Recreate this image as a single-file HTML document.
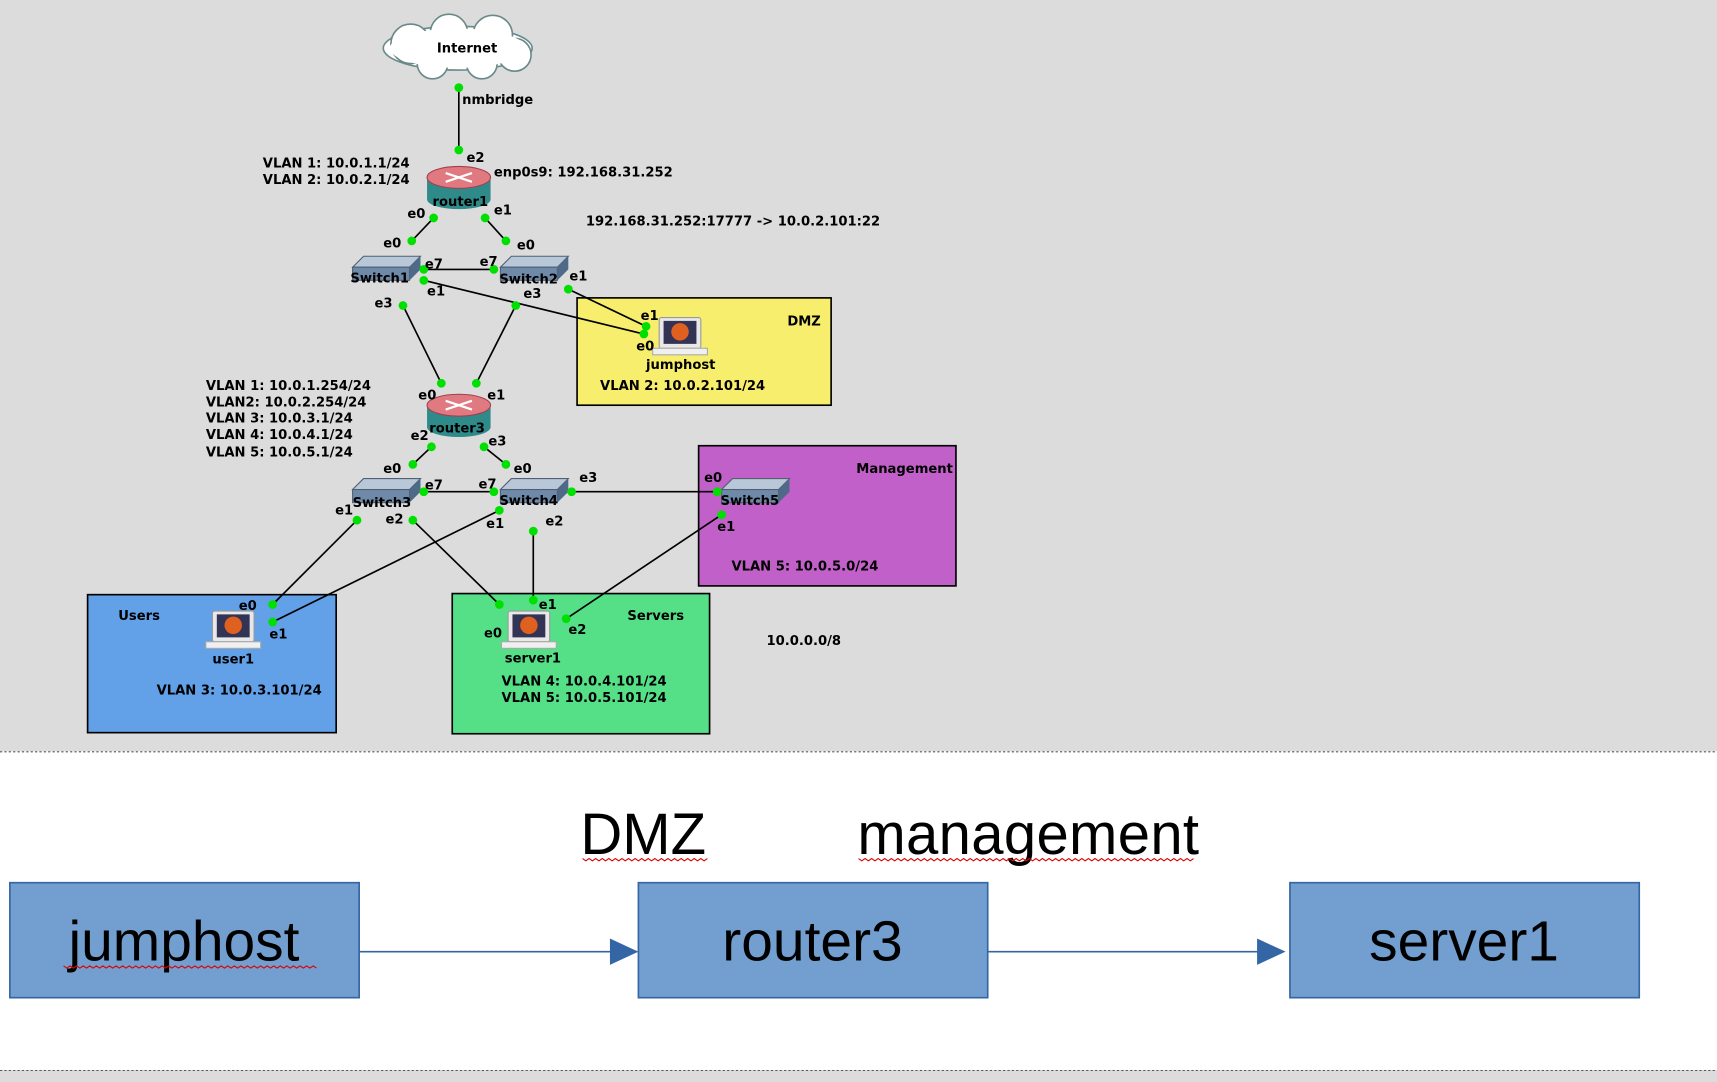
<!DOCTYPE html>
<html><head><meta charset="utf-8"><style>
html,body{margin:0;padding:0;width:1717px;height:1082px;overflow:hidden;background:#fff}
svg{display:block}
.t{font-family:"DejaVu Sans","Liberation Sans",sans-serif;font-weight:bold;font-size:12px;fill:#000}
.big{font-family:"Liberation Sans",sans-serif;fill:#000}
</style></head><body>
<svg width="1717" height="1082" viewBox="0 0 1568 988" preserveAspectRatio="none" xmlns="http://www.w3.org/2000/svg">
<rect x="0" y="0" width="1568" height="686" fill="#dcdcdc"/>
<line x1="0" y1="686.5" x2="1568" y2="686.5" stroke="#555" stroke-dasharray="2,2"/>
<rect x="0" y="977" width="1568" height="11" fill="#dcdcdc"/>
<line x1="0" y1="977.5" x2="1568" y2="977.5" stroke="#555" stroke-dasharray="2,2"/>

<rect x="527" y="272" width="232" height="98" fill="#f7ee6e" stroke="#000" stroke-width="1.5"/>
<rect x="638" y="407" width="235" height="128" fill="#c060c8" stroke="#000" stroke-width="1.5"/>
<rect x="80" y="543" width="227" height="126" fill="#62a0e8" stroke="#000" stroke-width="1.5"/>
<rect x="413" y="542" width="235" height="128" fill="#55e088" stroke="#000" stroke-width="1.5"/>
<text class="t" x="719" y="297">DMZ</text>
<text class="t" x="782" y="432">Management</text>
<text class="t" x="108" y="566">Users</text>
<text class="t" x="573" y="566">Servers</text>

<g stroke="#000" stroke-width="1.5">
<line x1="419" y1="80" x2="419" y2="137"/>
<line x1="396" y1="199" x2="376" y2="220"/>
<line x1="443" y1="199" x2="462" y2="220"/>
<line x1="387" y1="246" x2="451" y2="246"/>
<line x1="387" y1="256" x2="588" y2="305"/>
<line x1="519" y1="264" x2="590" y2="298"/>
<line x1="368" y1="279" x2="403" y2="350"/>
<line x1="471" y1="279" x2="435" y2="350"/>
<line x1="394" y1="408" x2="377" y2="424"/>
<line x1="442" y1="408" x2="462" y2="424"/>
<line x1="387" y1="449" x2="451" y2="449"/>
<line x1="522" y1="449" x2="655" y2="449"/>
<line x1="326" y1="475" x2="249" y2="552"/>
<line x1="456" y1="466" x2="249" y2="568"/>
<line x1="377" y1="475" x2="456" y2="552"/>
<line x1="487" y1="485" x2="487" y2="548"/>
<line x1="659" y1="470" x2="517" y2="565"/>
</g>

<g fill="#fff" stroke="#6a8a8a" stroke-width="1.5">
<ellipse cx="418" cy="44" rx="68" ry="20"/>
<circle cx="375" cy="40" r="18"/><circle cx="410" cy="30" r="17"/><circle cx="450" cy="32" r="18"/><circle cx="470" cy="50" r="15"/><circle cx="395" cy="58" r="14"/><circle cx="440" cy="58" r="14"/>
</g>
<ellipse cx="418" cy="44" rx="62" ry="18" fill="#fff"/>
<text class="t" x="399" y="48">Internet</text>

<g id="r">
<rect x="390" y="162" width="58" height="20" fill="#2f8a8a"/>
<ellipse cx="419" cy="182" rx="29" ry="9" fill="#2f8a8a"/>
<ellipse cx="419" cy="162" rx="29" ry="10" fill="#e07a80" stroke="#a04050"/>
<path d="M407 158 L431 166 M431 158 L407 166" stroke="#fff" stroke-width="2"/>
</g>
<use href="#r" y="208"/>
<text class="t" x="395" y="188">router1</text>
<text class="t" x="392" y="395">router3</text>

<g id="s">
<polygon points="322,244 332,234 384,234 374,244" fill="#b8c8d8" stroke="#506070"/>
<rect x="322" y="244" width="52" height="12" fill="#6e8aa8" stroke="#506070"/>
<polygon points="374,244 384,234 384,246 374,256" fill="#4e6a88"/>
</g>
<use href="#s" x="135"/>
<use href="#s" y="203"/>
<use href="#s" x="135" y="203"/>
<use href="#s" x="337" y="203"/>
<text class="t" x="320" y="258">Switch1</text>
<text class="t" x="456" y="259">Switch2</text>
<text class="t" x="322" y="463">Switch3</text>
<text class="t" x="456" y="461">Switch4</text>
<text class="t" x="658" y="461">Switch5</text>

<g id="h">
<rect x="602" y="290" width="38" height="28" rx="2" fill="#e8e8e8" stroke="#999"/>
<rect x="606" y="293" width="30" height="21" fill="#335"/>
<circle cx="621" cy="303" r="8" fill="#e06020"/>
<rect x="596" y="318" width="50" height="6" fill="#f0f0f0" stroke="#aaa"/>
</g>
<use href="#h" x="-408" y="268"/>
<use href="#h" x="-138" y="268"/>
<text class="t" x="590" y="337">jumphost</text>
<text class="t" x="194" y="606">user1</text>
<text class="t" x="461" y="605">server1</text>

<g fill="#00e000">
<circle cx="419" cy="80" r="4"/><circle cx="419" cy="137" r="4"/>
<circle cx="396" cy="199" r="4"/><circle cx="376" cy="220" r="4"/>
<circle cx="443" cy="199" r="4"/><circle cx="462" cy="220" r="4"/>
<circle cx="387" cy="246" r="4"/><circle cx="451" cy="246" r="4"/>
<circle cx="387" cy="256" r="4"/><circle cx="588" cy="305" r="4"/>
<circle cx="519" cy="264" r="4"/><circle cx="590" cy="298" r="4"/>
<circle cx="368" cy="279" r="4"/><circle cx="403" cy="350" r="4"/>
<circle cx="471" cy="279" r="4"/><circle cx="435" cy="350" r="4"/>
<circle cx="394" cy="408" r="4"/><circle cx="377" cy="424" r="4"/>
<circle cx="442" cy="408" r="4"/><circle cx="462" cy="424" r="4"/>
<circle cx="387" cy="449" r="4"/><circle cx="451" cy="449" r="4"/>
<circle cx="522" cy="449" r="4"/><circle cx="655" cy="449" r="4"/>
<circle cx="326" cy="475" r="4"/><circle cx="249" cy="552" r="4"/>
<circle cx="456" cy="466" r="4"/><circle cx="249" cy="568" r="4"/>
<circle cx="377" cy="475" r="4"/><circle cx="456" cy="552" r="4"/>
<circle cx="487" cy="485" r="4"/><circle cx="487" cy="548" r="4"/>
<circle cx="659" cy="470" r="4"/><circle cx="517" cy="565" r="4"/>
</g>

<g class="t">
<text x="422" y="95">nmbridge</text>
<text x="426" y="148">e2</text>
<text x="372" y="199">e0</text><text x="451" y="196">e1</text>
<text x="350" y="226">e0</text><text x="472" y="228">e0</text>
<text x="388" y="245">e7</text><text x="438" y="243">e7</text>
<text x="390" y="270">e1</text><text x="520" y="256">e1</text>
<text x="342" y="281">e3</text><text x="478" y="272">e3</text>
<text x="585" y="292">e1</text><text x="581" y="320">e0</text>
<text x="382" y="365">e0</text><text x="445" y="365">e1</text>
<text x="375" y="402">e2</text><text x="446" y="407">e3</text>
<text x="350" y="432">e0</text><text x="469" y="432">e0</text>
<text x="388" y="447">e7</text><text x="437" y="446">e7</text>
<text x="529" y="440">e3</text><text x="643" y="440">e0</text>
<text x="306" y="470">e1</text><text x="352" y="478">e2</text>
<text x="444" y="482">e1</text><text x="498" y="480">e2</text>
<text x="655" y="485">e1</text>
<text x="218" y="557">e0</text><text x="246" y="583">e1</text>
<text x="442" y="582">e0</text><text x="492" y="556">e1</text><text x="519" y="579">e2</text>
</g>

<g class="t">
<text x="240" y="153">VLAN 1: 10.0.1.1/24</text>
<text x="240" y="168">VLAN 2: 10.0.2.1/24</text>
<text x="451" y="161">enp0s9: 192.168.31.252</text>
<text x="535" y="206">192.168.31.252:17777 -&gt; 10.0.2.101:22</text>
<text x="548" y="356">VLAN 2: 10.0.2.101/24</text>
<text x="188" y="356">VLAN 1: 10.0.1.254/24</text>
<text x="188" y="371">VLAN2: 10.0.2.254/24</text>
<text x="188" y="386">VLAN 3: 10.0.3.1/24</text>
<text x="188" y="401">VLAN 4: 10.0.4.1/24</text>
<text x="188" y="417">VLAN 5: 10.0.5.1/24</text>
<text x="668" y="521">VLAN 5: 10.0.5.0/24</text>
<text x="143" y="634">VLAN 3: 10.0.3.101/24</text>
<text x="458" y="626">VLAN 4: 10.0.4.101/24</text>
<text x="458" y="641">VLAN 5: 10.0.5.101/24</text>
<text x="700" y="589">10.0.0.0/8</text>
</g>

<text class="big" x="530" y="780" font-size="53">DMZ</text>
<text class="big" x="783" y="780" font-size="53" textLength="312">management</text>
<path d="M532 784 l3 2 l3 -2 l3 2 l3 -2 l3 2 l3 -2 l3 2 l3 -2 l3 2 l3 -2 l3 2 l3 -2 l3 2 l3 -2 l3 2 l3 -2 l3 2 l3 -2 l3 2 l3 -2 l3 2 l3 -2 l3 2 l3 -2 l3 2 l3 -2 l3 2 l3 -2 l3 2 l3 -2 l3 2 l3 -2 l3 2 l3 -2 l3 2 l3 -2 l3 2 l3 -2" stroke="#d00" fill="none"/>
<path d="M784 784 l3 2 l3 -2 l3 2 l3 -2 l3 2 l3 -2 l3 2 l3 -2 l3 2 l3 -2 l3 2 l3 -2 l3 2 l3 -2 l3 2 l3 -2 l3 2 l3 -2 l3 2 l3 -2 l3 2 l3 -2 l3 2 l3 -2 l3 2 l3 -2 l3 2 l3 -2 l3 2 l3 -2 l3 2 l3 -2 l3 2 l3 -2 l3 2 l3 -2 l3 2 l3 -2 l3 2 l3 -2 l3 2 l3 -2 l3 2 l3 -2 l3 2 l3 -2 l3 2 l3 -2 l3 2 l3 -2 l3 2 l3 -2 l3 2 l3 -2 l3 2 l3 -2 l3 2 l3 -2 l3 2 l3 -2 l3 2 l3 -2 l3 2 l3 -2 l3 2 l3 -2 l3 2 l3 -2 l3 2 l3 -2 l3 2 l3 -2 l3 2 l3 -2 l3 2 l3 -2 l3 2 l3 -2 l3 2 l3 -2 l3 2 l3 -2 l3 2 l3 -2 l3 2 l3 -2 l3 2 l3 -2 l3 2 l3 -2 l3 2 l3 -2 l3 2 l3 -2 l3 2 l3 -2 l3 2 l3 -2 l3 2 l3 -2 l3 2 l3 -2" stroke="#d00" fill="none"/>
<rect x="9" y="806" width="319" height="105" fill="#729fcf" stroke="#3465a4" stroke-width="1.5"/>
<rect x="583" y="806" width="319" height="105" fill="#729fcf" stroke="#3465a4" stroke-width="1.5"/>
<rect x="1178" y="806" width="319" height="105" fill="#729fcf" stroke="#3465a4" stroke-width="1.5"/>
<text class="big" x="168" y="877" font-size="52" text-anchor="middle">jumphost</text>
<path d="M58 882 l3 2 l3 -2 l3 2 l3 -2 l3 2 l3 -2 l3 2 l3 -2 l3 2 l3 -2 l3 2 l3 -2 l3 2 l3 -2 l3 2 l3 -2 l3 2 l3 -2 l3 2 l3 -2 l3 2 l3 -2 l3 2 l3 -2 l3 2 l3 -2 l3 2 l3 -2 l3 2 l3 -2 l3 2 l3 -2 l3 2 l3 -2 l3 2 l3 -2 l3 2 l3 -2 l3 2 l3 -2 l3 2 l3 -2 l3 2 l3 -2 l3 2 l3 -2 l3 2 l3 -2 l3 2 l3 -2 l3 2 l3 -2 l3 2 l3 -2 l3 2 l3 -2 l3 2 l3 -2 l3 2 l3 -2 l3 2 l3 -2 l3 2 l3 -2 l3 2 l3 -2 l3 2 l3 -2 l3 2 l3 -2 l3 2 l3 -2 l3 2 l3 -2 l3 2 l3 -2 l3 2" stroke="#d00" fill="none"/>
<text class="big" x="742" y="877" font-size="52" text-anchor="middle">router3</text>
<text class="big" x="1337" y="877" font-size="52" text-anchor="middle">server1</text>
<line x1="328" y1="869" x2="560" y2="869" stroke="#3465a4" stroke-width="1.5"/>
<polygon points="557,857 583,869 557,881" fill="#3465a4"/>
<line x1="902" y1="869" x2="1152" y2="869" stroke="#3465a4" stroke-width="1.5"/>
<polygon points="1148,857 1174,869 1148,881" fill="#3465a4"/>
</svg>
</body></html>
